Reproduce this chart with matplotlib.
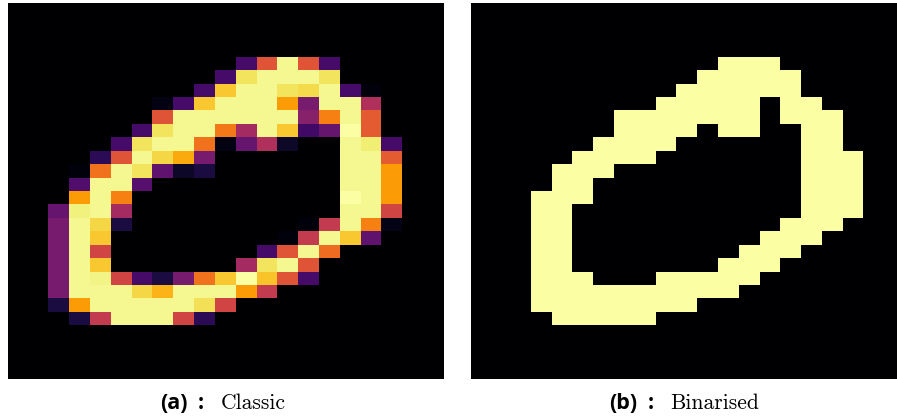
import numpy as np
import matplotlib
matplotlib.use("Agg")
import matplotlib.pyplot as plt

# 28 x 21 crop of a handwritten zero, grey levels 0-255
pixels = [
    [0, 0, 0, 0, 0, 0, 0, 0, 0, 0, 0, 0, 0, 0, 0, 0, 0, 0, 0, 0, 0],
    [0, 0, 0, 0, 0, 0, 0, 0, 0, 0, 0, 0, 0, 0, 0, 0, 0, 0, 0, 0, 0],
    [0, 0, 0, 0, 0, 0, 0, 0, 0, 0, 0, 0, 0, 0, 0, 0, 0, 0, 0, 0, 0],
    [0, 0, 0, 0, 0, 0, 0, 0, 0, 0, 0, 0, 0, 0, 0, 0, 0, 0, 0, 0, 0],
    [0, 0, 0, 0, 0, 0, 0, 0, 0, 0, 0, 54, 156, 250, 156, 54, 0, 0, 0, 0, 0],
    [0, 0, 0, 0, 0, 0, 0, 0, 0, 0, 54, 237, 250, 250, 250, 237, 0, 0, 0, 0, 0],
    [0, 0, 0, 0, 0, 0, 0, 0, 0, 54, 222, 250, 250, 237, 232, 250, 54, 5, 0, 0, 0],
    [0, 0, 0, 0, 0, 0, 0, 8, 54, 222, 250, 250, 250, 199, 84, 250, 250, 120, 0, 0, 0],
    [0, 0, 0, 0, 0, 0, 0, 156, 250, 250, 250, 250, 250, 250, 94, 184, 250, 160, 0, 0, 0],
    [0, 0, 0, 0, 0, 0, 54, 237, 250, 250, 180, 112, 250, 222, 50, 74, 255, 160, 0, 0, 0],
    [0, 0, 0, 0, 0, 54, 237, 250, 250, 176, 8, 74, 120, 18, 0, 0, 250, 243, 54, 0, 0],
    [0, 0, 0, 0, 38, 156, 250, 230, 207, 84, 0, 0, 0, 0, 0, 0, 250, 250, 160, 0, 0],
    [0, 0, 0, 5, 176, 250, 237, 70, 18, 28, 0, 0, 0, 0, 0, 0, 250, 250, 199, 0, 0],
    [0, 0, 0, 60, 250, 250, 64, 0, 0, 0, 0, 0, 0, 0, 0, 0, 250, 250, 199, 0, 0],
    [0, 0, 0, 199, 250, 184, 0, 0, 0, 0, 0, 0, 0, 0, 0, 0, 255, 250, 199, 0, 0],
    [0, 0, 74, 245, 250, 112, 0, 0, 0, 0, 0, 0, 0, 0, 0, 0, 250, 250, 143, 0, 0],
    [0, 0, 84, 250, 230, 28, 0, 0, 0, 0, 0, 0, 0, 0, 5, 133, 250, 184, 10, 0, 0],
    [0, 0, 84, 250, 222, 0, 0, 0, 0, 0, 0, 0, 0, 5, 133, 250, 222, 70, 0, 0, 0],
    [0, 0, 84, 250, 143, 0, 0, 0, 0, 0, 0, 0, 54, 156, 250, 172, 0, 0, 0, 0, 0],
    [0, 0, 84, 250, 222, 0, 0, 0, 0, 0, 0, 112, 237, 250, 156, 0, 0, 0, 0, 0, 0],
    [0, 0, 84, 250, 247, 143, 54, 28, 84, 176, 222, 255, 220, 156, 54, 0, 0, 0, 0, 0, 0],
    [0, 0, 84, 250, 250, 250, 230, 212, 250, 250, 250, 199, 133, 0, 0, 0, 0, 0, 0, 0, 0],
    [0, 0, 28, 199, 250, 250, 250, 250, 250, 235, 143, 0, 0, 0, 0, 0, 0, 0, 0, 0, 0],
    [0, 0, 0, 28, 133, 250, 250, 250, 143, 38, 0, 0, 0, 0, 0, 0, 0, 0, 0, 0, 0],
    [0, 0, 0, 0, 0, 0, 0, 0, 0, 0, 0, 0, 0, 0, 0, 0, 0, 0, 0, 0, 0],
    [0, 0, 0, 0, 0, 0, 0, 0, 0, 0, 0, 0, 0, 0, 0, 0, 0, 0, 0, 0, 0],
    [0, 0, 0, 0, 0, 0, 0, 0, 0, 0, 0, 0, 0, 0, 0, 0, 0, 0, 0, 0, 0],
    [0, 0, 0, 0, 0, 0, 0, 0, 0, 0, 0, 0, 0, 0, 0, 0, 0, 0, 0, 0, 0],
]
threshold = 128
panel_tags = ['(a)', '(b)']
panel_names = ['Classic', 'Binarised']

img = np.array(pixels, dtype=float)
binary = (img >= threshold).astype(float)

W, H = 897, 418
fig = plt.figure(figsize=(W / 100, H / 100), dpi=100)

# axes boxes in pixels: left, top, width, height
boxes = [(8, 3, 435, 376), (471, 3, 435, 376)]
xlims = [(-0.43, 20.5), (-0.385, 20.55)]
images = [(img, 0, 255), (binary, 0, 1)]

for (x0, y0, w, h), xl, (data, lo, hi) in zip(boxes, xlims, images):
    ax = fig.add_axes([x0 / W, 1 - (y0 + h) / H, w / W, h / H])
    ax.imshow(data, cmap='inferno', vmin=lo, vmax=hi,
              interpolation='nearest', aspect='auto')
    ax.set_xlim(*xl)
    ax.set_ylim(27.5, -0.5)
    ax.axis('off')

# captions: bold sans tag, colon, serif name
tag_left = [160, 609]
colon_x = [201, 651]
name_left = [220.5, 670]
base_y = 9 / H
sans = dict(family='Open Sans', fontweight='bold', fontsize=15.5, va='baseline')
for tag, name, xt, xc, xn in zip(panel_tags, panel_names, tag_left, colon_x, name_left):
    fig.text(xt / W, base_y, tag, ha='left', **sans)
    fig.text(xc / W, base_y, ':', ha='center', **sans)
    fig.text(xn / W, base_y, name, ha='left', va='baseline',
             family='cmr10', fontsize=15.5)

fig.savefig('out.png', dpi=100)
